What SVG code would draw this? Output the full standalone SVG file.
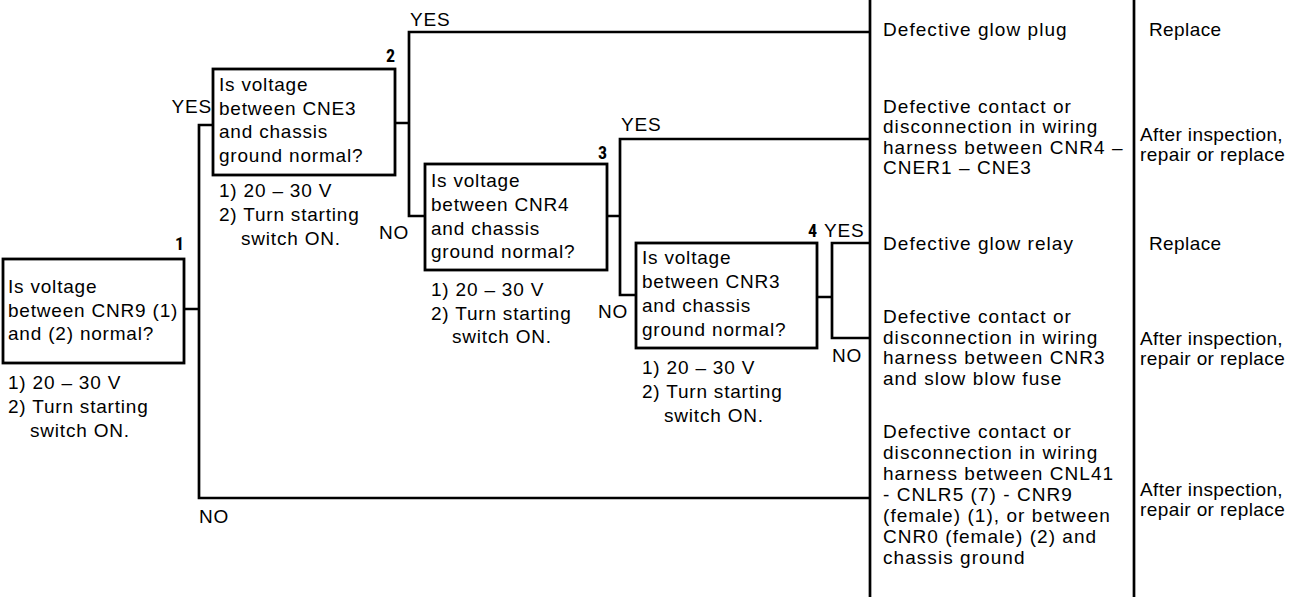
<svg xmlns="http://www.w3.org/2000/svg" width="1296" height="597" viewBox="0 0 1296 597">
<style>
.t{font-family:"Liberation Sans",Arial,sans-serif;font-size:19px;fill:#000;letter-spacing:0.8px}
.r{font-family:"Liberation Sans",Arial,sans-serif;font-size:19px;fill:#000;letter-spacing:1.05px}
.a{font-family:"Liberation Sans",Arial,sans-serif;font-size:19px;fill:#000;letter-spacing:0.4px}
.n{font-family:"Liberation Sans Narrow","Roboto Condensed","Liberation Sans",sans-serif;font-weight:bold;font-size:18px;font-stretch:condensed;fill:#000;text-anchor:end}
.e{text-anchor:end}
.box{fill:#fff;stroke:#000;stroke-width:2.8}
.ln{fill:none;stroke:#000;stroke-width:2.7}
</style>
<rect width="1296" height="597" fill="#fff"/>
<g id="connectors">
<path class="ln" d="M870 0V597M1134 0V597"/>
<path class="ln" d="M184 309H199M213 125H199V498H870"/>
<path class="ln" d="M395 123H409M870 32H409V216H425"/>
<path class="ln" d="M607 216H620M870 139H620V295H636"/>
<path class="ln" d="M817 297H832M870 243H832V338H870"/>
<text class="t e" x="212" y="113">YES</text>
<text class="t" x="199" y="523">NO</text>
<text class="t" x="410" y="26">YES</text>
<text class="t e" x="409" y="239">NO</text>
<text class="t" x="621" y="131">YES</text>
<text class="t" x="598" y="318">NO</text>
<text class="t" x="824" y="237">YES</text>
<text class="t e" x="862" y="362">NO</text>
</g>
<g id="node1">
<rect class="box" x="3" y="259" width="181" height="104"/>
<text class="n" x="184" y="250">1</text>
<text class="t" x="8" y="293">Is voltage</text>
<text class="t" x="8" y="316.5">between CNR9 (1)</text>
<text class="t" x="8" y="340">and (2) normal?</text>
<text class="t" x="8" y="389">1) 20 – 30 V</text>
<text class="t" x="8" y="413">2) Turn starting</text>
<text class="t" x="30" y="437">switch ON.</text>
</g>
<g id="node2">
<rect class="box" x="213" y="69" width="182" height="106"/>
<text class="n" x="395" y="62">2</text>
<text class="t" x="219" y="91">Is voltage</text>
<text class="t" x="219" y="114.5">between CNE3</text>
<text class="t" x="219" y="138">and chassis</text>
<text class="t" x="219" y="161.5">ground normal?</text>
<text class="t" x="219" y="197">1) 20 – 30 V</text>
<text class="t" x="219" y="221">2) Turn starting</text>
<text class="t" x="241" y="245">switch ON.</text>
</g>
<g id="node3">
<rect class="box" x="425" y="164" width="182" height="106"/>
<text class="n" x="607" y="159">3</text>
<text class="t" x="431" y="187">Is voltage</text>
<text class="t" x="431" y="211">between CNR4</text>
<text class="t" x="431" y="235">and chassis</text>
<text class="t" x="431" y="258">ground normal?</text>
<text class="t" x="431" y="296">1) 20 – 30 V</text>
<text class="t" x="431" y="320">2) Turn starting</text>
<text class="t" x="452" y="343">switch ON.</text>
</g>
<g id="node4">
<rect class="box" x="636" y="243" width="181" height="105"/>
<text class="n" x="817" y="237">4</text>
<text class="t" x="642" y="264">Is voltage</text>
<text class="t" x="642" y="288">between CNR3</text>
<text class="t" x="642" y="312">and chassis</text>
<text class="t" x="642" y="336">ground normal?</text>
<text class="t" x="642" y="374">1) 20 – 30 V</text>
<text class="t" x="642" y="398">2) Turn starting</text>
<text class="t" x="664" y="422">switch ON.</text>
</g>
<g id="cause1">
<text class="r" x="883" y="36">Defective glow plug</text>
<text class="a" x="1149" y="36">Replace</text>
</g>
<g id="cause2">
<text class="r" x="883" y="112.5">Defective contact or</text>
<text class="r" x="883" y="133">disconnection in wiring</text>
<text class="r" x="883" y="153.5">harness between CNR4 –</text>
<text class="r" x="883" y="174">CNER1 – CNE3</text>
<text class="a" x="1140" y="141">After inspection,</text>
<text class="a" x="1140" y="160.5">repair or replace</text>
</g>
<g id="cause3">
<text class="r" x="883" y="250">Defective glow relay</text>
<text class="a" x="1149" y="250">Replace</text>
</g>
<g id="cause4">
<text class="r" x="883" y="323">Defective contact or</text>
<text class="r" x="883" y="343.5">disconnection in wiring</text>
<text class="r" x="883" y="364">harness between CNR3</text>
<text class="r" x="883" y="384.5">and slow blow fuse</text>
<text class="a" x="1140" y="345">After inspection,</text>
<text class="a" x="1140" y="365">repair or replace</text>
</g>
<g id="cause5">
<text class="r" x="883" y="438">Defective contact or</text>
<text class="r" x="883" y="459">disconnection in wiring</text>
<text class="r" x="883" y="480">harness between CNL41</text>
<text class="r" x="883" y="501">- CNLR5 (7) - CNR9</text>
<text class="r" x="883" y="522">(female) (1), or between</text>
<text class="r" x="883" y="543">CNR0 (female) (2) and</text>
<text class="r" x="883" y="564">chassis ground</text>
<text class="a" x="1140" y="496">After inspection,</text>
<text class="a" x="1140" y="516">repair or replace</text>
</g>
</svg>
